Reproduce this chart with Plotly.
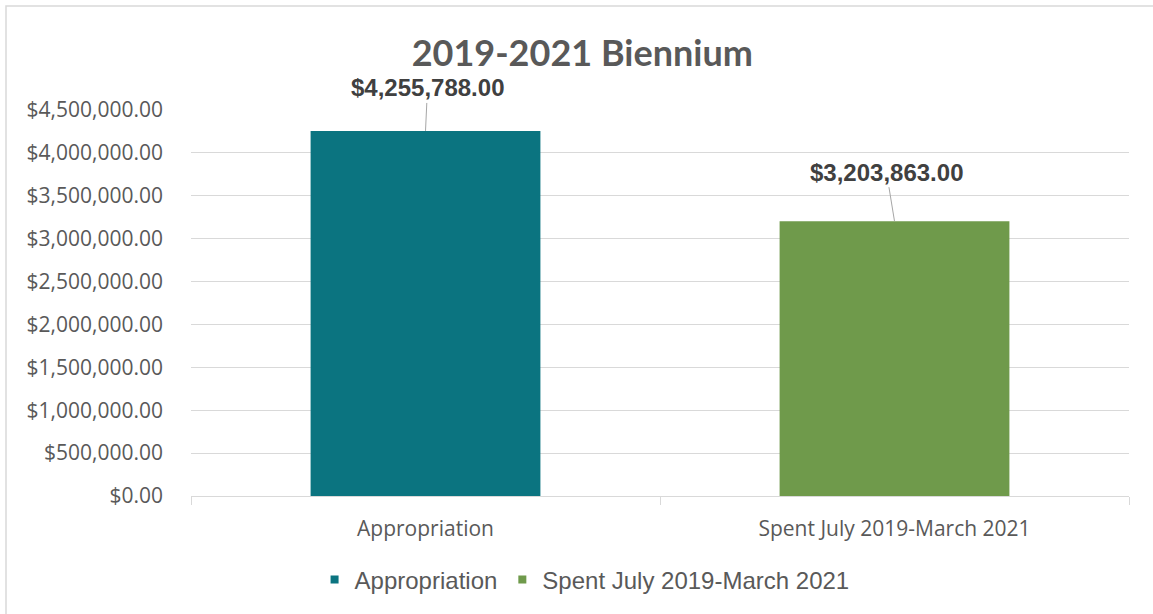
import plotly.graph_objects as go

categories = ["Appropriation", "Spent July 2019-March 2021"]
values = [4255788.00, 3203863.00]
colors = ["#0B7480", "#6F9A4B"]
label_offsets = [(2, -43), (-8, -49)]
y_ticks = [0, 500000, 1000000, 1500000, 2000000, 2500000, 3000000, 3500000, 4000000, 4500000]

fig = go.Figure()
for cat, val, col in zip(categories, values, colors):
    fig.add_trace(go.Bar(
        x=[cat], y=[val], name=cat, marker=dict(color=col, line=dict(width=0)),
        width=0.49, hoverinfo="skip", showlegend=False,
    ))
# legend entries with small square swatches
for cat, col in zip(categories, colors):
    fig.add_trace(go.Scatter(
        x=[None], y=[None], mode="markers", name=cat,
        marker=dict(symbol="square", size=8, color=col), hoverinfo="skip",
    ))

for cat, val, (ax, ay) in zip(categories, values, label_offsets):
    fig.add_annotation(
        x=cat, y=val, text=f"<b>${val:,.2f}</b>", showarrow=True, arrowhead=0,
        arrowwidth=1, arrowcolor="#A6A6A6", ax=ax, ay=ay,
        font=dict(family="Liberation Sans, Arial", size=24, color="#404040"),
    )

L, R, T, B = 191, 24, 110, 118
W, H = 1153, 614
pw, ph = W - L - R, H - T - B
fig.add_shape(type="rect", xref="paper", yref="paper",
              x0=(6 - L) / pw, x1=(1160 - L) / pw,
              y0=(H - B - 620) / ph, y1=(H - B - 6) / ph,
              line=dict(color="#D9D9D9", width=1.5), fillcolor="rgba(0,0,0,0)", layer="below")

fig.update_layout(
    width=W, height=H,
    margin=dict(l=L, r=R, t=T, b=B),
    paper_bgcolor="white", plot_bgcolor="white",
    barmode="overlay",
    title=dict(text="<b>2019-2021 Biennium</b>", x=0.505, xanchor="center", y=1 - 53 / H, yanchor="middle",
               font=dict(family="Lato, Open Sans", size=36, color="#595959")),
    font=dict(family="Open Sans", color="#595959"),
    legend=dict(orientation="h", x=0.507, xref="container", xanchor="center",
                y=1 - 580 / H, yref="container", yanchor="middle",
                font=dict(family="Liberation Sans, Arial", size=24, color="#595959"),
                itemwidth=30, traceorder="normal"),
    showlegend=True,
)
fig.update_xaxes(
    type="category", categoryorder="array", categoryarray=categories,
    tickson="boundaries", ticks="outside", ticklen=8, tickcolor="#D9D9D9", tickwidth=1,
    showline=True, linecolor="#D9D9D9", linewidth=1, showgrid=False,
    tickfont=dict(family="Open Sans", size=21, color="#595959"),
    ticklabelstandoff=14,
)
fig.update_yaxes(
    range=[0, 4500000], tickvals=y_ticks, tickformat="$,.2f",
    showgrid=True, gridcolor="#D9D9D9", gridwidth=1, zeroline=False,
    showline=False, ticks="", ticklabelstandoff=27,
    tickfont=dict(family="Open Sans", size=21, color="#595959"),
)

fig.write_html("out.html", post_script="document.body.style.margin='0';",
               config={"displayModeBar": False})
